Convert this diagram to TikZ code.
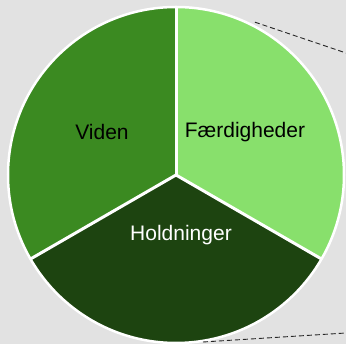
\documentclass[tikz,border=0pt]{standalone}
\usepackage{fontspec}
\setmainfont{Liberation Sans}
\usetikzlibrary{positioning,calc}
\definecolor{bggray}{HTML}{E2E2E2}
\definecolor{midgreen}{HTML}{3B8A21}
\definecolor{lightgreen}{HTML}{88E06C}
\definecolor{darkgreen}{HTML}{1D4410}

\begin{document}
\begin{tikzpicture}[x=1pt,y=1pt,
    label text/.style={font=\fontsize{21}{25}\selectfont},
    zoom line/.style={black!85,line width=0.9pt,dash pattern=on 5pt off 3pt}]
    \fill[bggray] (0,0) rectangle (346,344);
    \useasboundingbox (0,0) rectangle (346,344);
    \pgfmathsetmacro{\r}{168}
    \coordinate (c) at (176,169);
    \foreach \a/\b/\col in {90/210/midgreen,210/330/darkgreen,-30/90/lightgreen}{
        \fill[\col] (c) -- ++(\a:\r) arc (\a:\b:\r) -- cycle;
    }
    \foreach \a in {90,210,330}{
        \draw[white,line width=3pt] (c) -- ++(\a:\r);
    }
    \draw[white,line width=2.5pt] (c) circle (\r);
    \node[label text] (viden) at (102,212) {Viden};
    \node[label text] (faerd) at (245,212) {Færdigheder};
    \node[label text,text=white] (hold) at (181,109) {Holdninger};
    % zoom lines to the right
    \coordinate (top) at ($(c)+(62.7:172)$);
    \coordinate (topend) at (346,291);
    \coordinate (bot) at (203,2);
    \coordinate (botend) at (346,11);
    \draw[zoom line] (top) -- (topend);
    \draw[zoom line] (bot) -- (botend);
\end{tikzpicture}
\end{document}
